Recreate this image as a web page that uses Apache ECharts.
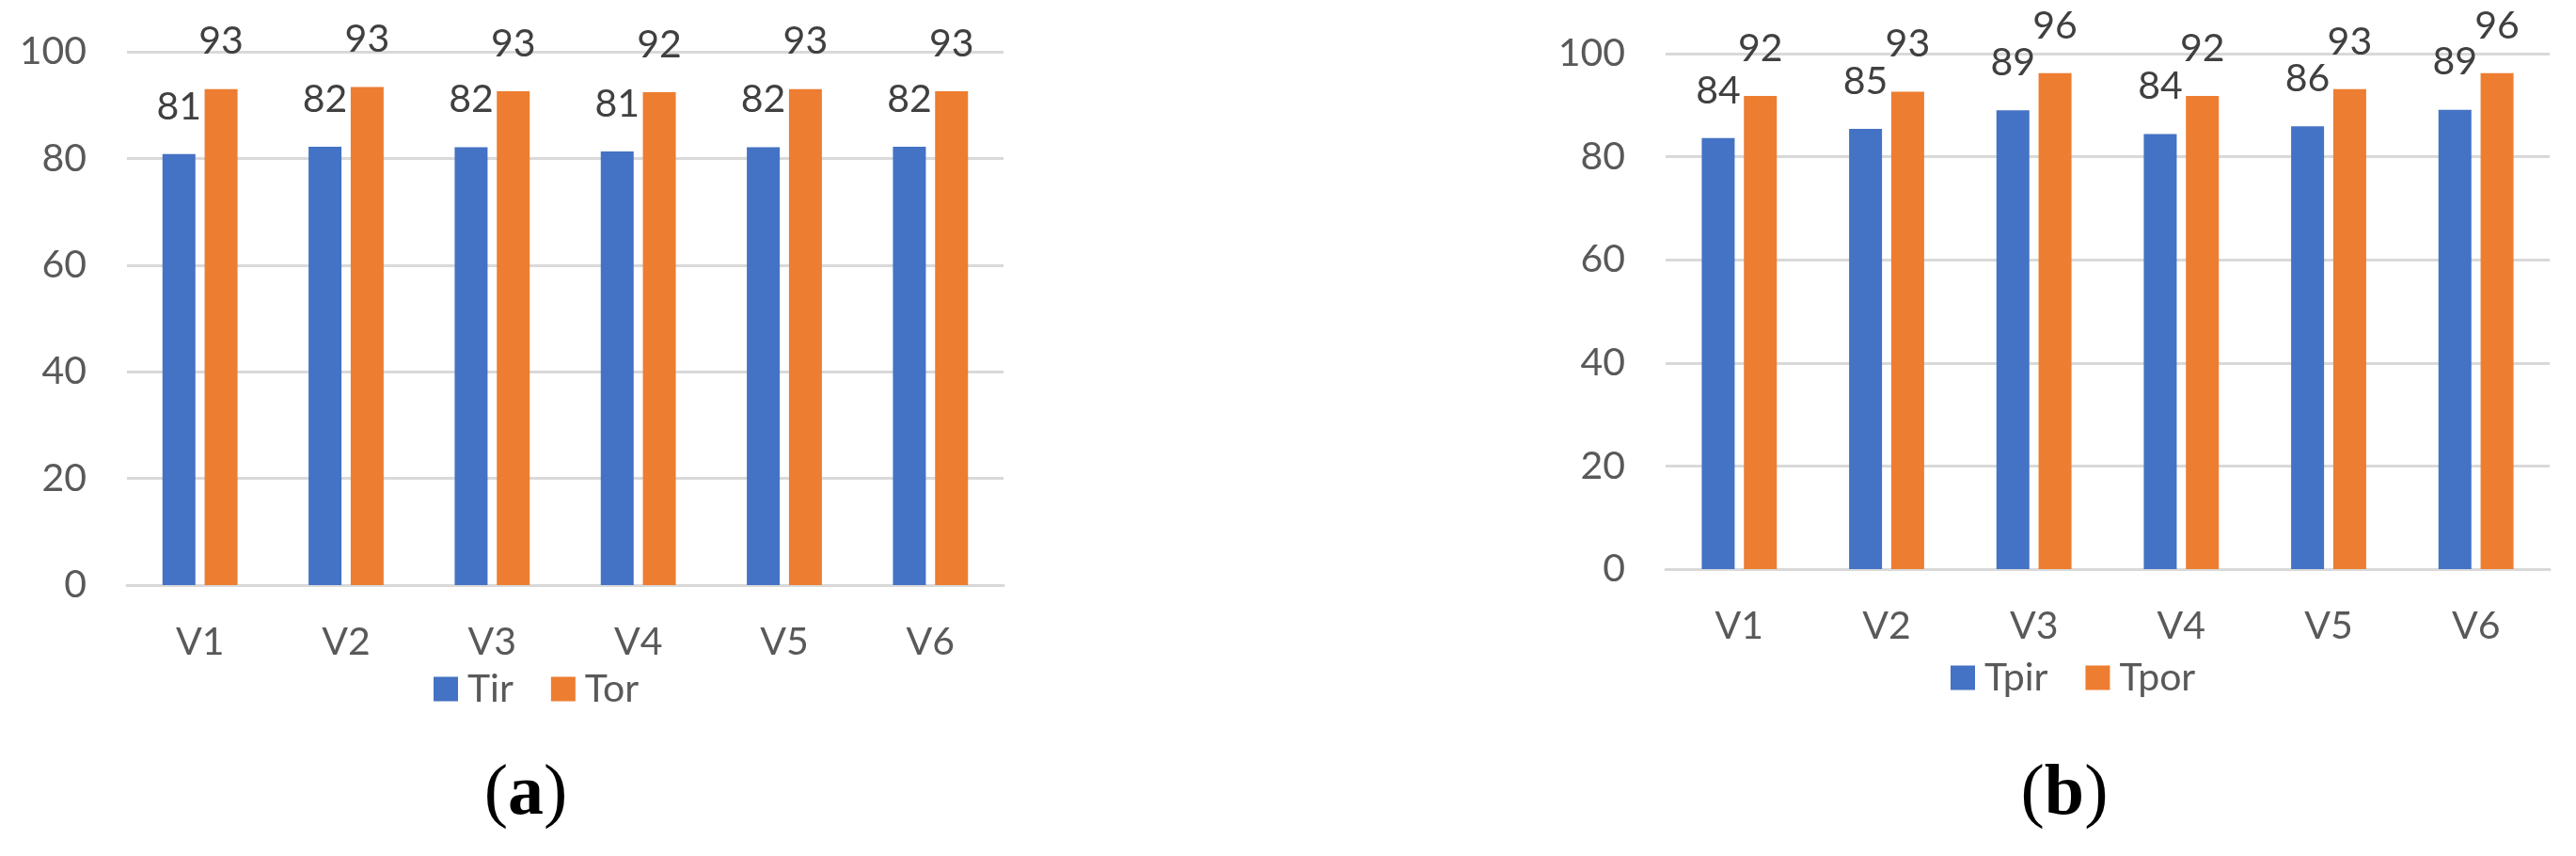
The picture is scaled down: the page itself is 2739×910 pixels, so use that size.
<!DOCTYPE html>
<html>
<head>
<meta charset="utf-8">
<script src="https://cdn.jsdelivr.net/npm/echarts@6/dist/echarts.min.js"></script>
<style>
html,body{margin:0;padding:0;background:#fff;}
#chart{width:2739px;height:910px;}
</style>
</head>
<body>
<div id="chart"></div>
<script>
// ---- data ----
const categories = ['V1', 'V2', 'V3', 'V4', 'V5', 'V6'];
const tir  = [80.8, 82.2, 82.1, 81.3, 82.1, 82.2];
const tor  = [93.0, 93.4, 92.6, 92.4, 93.0, 92.6];
const tpir = [83.6, 85.4, 89.0, 84.4, 85.9, 89.1];
const tpor = [91.8, 92.6, 96.2, 91.8, 93.1, 96.2];
const yTicks = [0, 20, 40, 60, 80, 100];
const seriesNamesA = ['Tir', 'Tor'];
const seriesNamesB = ['Tpir', 'Tpor'];
const captions = ['a', 'b'];

const BLUE = '#4472C4', ORANGE = '#ED7D31';
const FONT = 'Lato';
const FS = 41;
const AXIS_COLOR = '#595959';
const LABEL_COLOR = '#404040';
const GRID_COLOR = '#D9D9D9';

const chart = echarts.init(document.getElementById('chart'), null, {renderer: 'canvas'});

function xAxisFor(gi) {
  return {
    type: 'category', gridIndex: gi, data: categories,
    axisLine: {show: true, lineStyle: {color: GRID_COLOR, width: 3}},
    axisTick: {show: false},
    axisLabel: {color: AXIS_COLOR, fontFamily: FONT, fontSize: FS, margin: 40}
  };
}
function yAxisFor(gi) {
  return {
    type: 'value', gridIndex: gi, min: yTicks[0], max: yTicks[yTicks.length - 1], interval: yTicks[1] - yTicks[0],
    axisLine: {show: false}, axisTick: {show: false},
    splitLine: {show: true, lineStyle: {color: GRID_COLOR, width: 3}},
    axisLabel: {color: AXIS_COLOR, fontFamily: FONT, fontSize: FS, margin: 43}
  };
}
function barSeries(name, data, color, gi) {
  return {
    name: name, type: 'bar', xAxisIndex: gi, yAxisIndex: gi, data: data,
    barWidth: 35, barGap: '28%',
    itemStyle: {color: color},
    label: {
      show: true, position: 'top', distance: 30,
      color: LABEL_COLOR, fontFamily: FONT, fontSize: FS,
      formatter: p => Math.round(p.value)
    }
  };
}
function legendFor(names, left, top) {
  return {
    data: names, left: left, top: top, orient: 'horizontal',
    icon: 'rect', itemWidth: 26, itemHeight: 26, itemGap: 40,
    textStyle: {color: AXIS_COLOR, fontFamily: FONT, fontSize: FS, padding: [0, 0, 0, 5]}
  };
}

chart.setOption({
  backgroundColor: '#fff',
  animation: false,
  grid: [
    {left: 135, top: 55, width: 932, height: 567},
    {left: 1771, top: 57, width: 940, height: 548}
  ],
  xAxis: [xAxisFor(0), xAxisFor(1)],
  yAxis: [yAxisFor(0), yAxisFor(1)],
  legend: [legendFor(seriesNamesA, 456, 707), legendFor(seriesNamesB, 2069, 695)],
  series: [
    barSeries(seriesNamesA[0], tir, BLUE, 0),
    barSeries(seriesNamesA[1], tor, ORANGE, 0),
    barSeries(seriesNamesB[0], tpir, BLUE, 1),
    barSeries(seriesNamesB[1], tpor, ORANGE, 1)
  ],
  graphic: [
    {type: 'text', x: 559, y: 845, style: {
      text: '({b|' + captions[0] + '})', align: 'center', verticalAlign: 'middle',
      font: '76px "Liberation Serif"', fill: '#000',
      rich: {b: {fontFamily: 'Liberation Serif', fontSize: 76, fontWeight: 'bold', fill: '#000'}}
    }},
    {type: 'text', x: 2195, y: 845, style: {
      text: '({b|' + captions[1] + '})', align: 'center', verticalAlign: 'middle',
      font: '76px "Liberation Serif"', fill: '#000',
      rich: {b: {fontFamily: 'Liberation Serif', fontSize: 76, fontWeight: 'bold', fill: '#000'}}
    }}
  ]
});
</script>
</body>
</html>
